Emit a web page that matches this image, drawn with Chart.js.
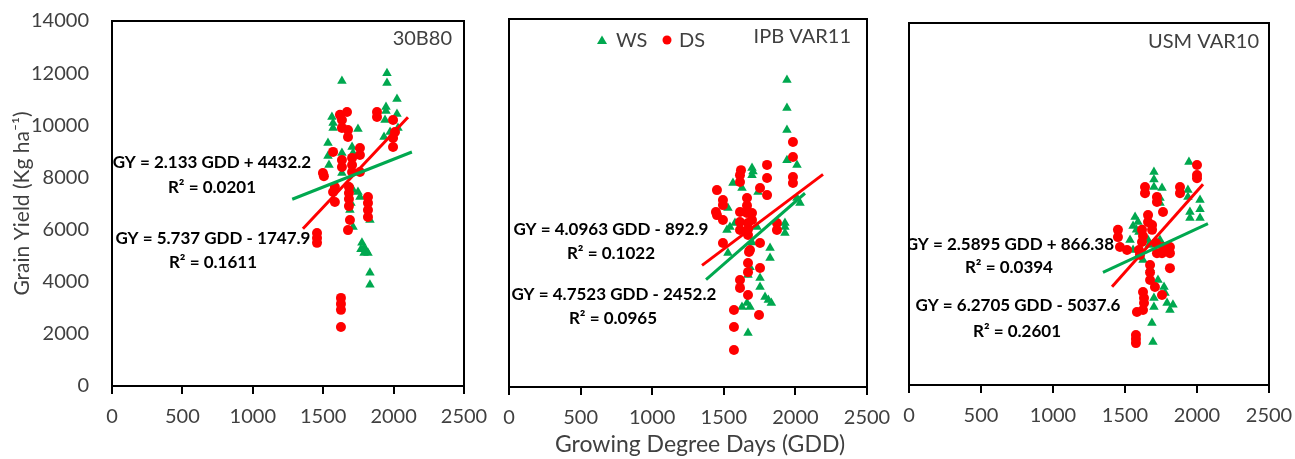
<!DOCTYPE html>
<html>
<head>
<meta charset="utf-8">
<script src="https://cdn.jsdelivr.net/npm/chart.js@4"></script>
<style>
html, body { margin: 0; padding: 0; background: #fff; }
#wrap { position: relative; width: 1295px; height: 459px; }
#wrap canvas { position: absolute; left: 0; top: 0; }
</style>
</head>
<body>
<div id="wrap">
  <canvas id="c1" width="1295" height="459"></canvas>
  <canvas id="c2" width="1295" height="459"></canvas>
  <canvas id="c3" width="1295" height="459"></canvas>
</div>
<script>
// --- data ---
const xTicks = [0, 500, 1000, 1500, 2000, 2500];
const yTicks = [0, 2000, 4000, 6000, 8000, 10000, 12000, 14000];
const seriesNames = ['WS', 'DS'];

// 30B80
const gdd30B80WS = [1633,1953,1953,2024,1946,1946,1562,1570,1570,1747,2024,1939,1932,2031,1975,1534,1705,1712,1534,1541,1633,1633,1690,1697,1747,1761,1690,1712,1832,1775,1790,1805,1818,1790,1768,1832,1832,1712];
const gy30B80WS  = [11700,12000,11620,11010,10700,10550,10320,10090,9900,9860,10430,10200,9550,9900,9740,9320,9170,8940,8820,8480,8940,8170,7630,7020,7440,7250,6750,6100,6370,5490,5300,5200,5100,5100,5250,4340,3880,7520];
const gdd30B80DS = [1619,1669,1882,1882,1633,1633,1676,1676,1996,2010,1996,1996,1761,1761,1633,1633,1705,1705,1705,1498,1505,1761,1583,1570,1683,1683,1683,1683,1583,1818,1818,1818,1818,1690,1676,1456,1456,1456,1626,1626,1626,1626,1570];
const gy30B80DS  = [10400,10510,10510,10320,10200,9900,9820,9550,10200,9740,9510,9170,9130,8860,8670,8400,8750,8480,8210,8170,8050,8210,7630,7440,7630,7400,7170,6900,7060,7250,7020,6750,6480,6370,5980,5870,5680,5490,3380,3150,2920,2260,8980];

// IPB VAR11
const gddIPBWS = [1941,1941,1941,1941,2011,1697,1697,1704,1564,1627,1739,1529,2032,2011,1927,1927,1927,1543,1522,1578,1732,1823,1823,1529,1683,1669,1753,1753,1788,1811,1832,1627,1683,1662,1669,1697];
const gyIPBWS  = [11680,10610,9780,8630,8450,8330,8060,8200,7760,7570,7420,6810,7000,7190,6240,6090,5860,6090,5970,6240,6090,5290,4910,5100,4560,4260,4150,3800,3420,3310,3200,3040,3040,3200,2050,5500];
const gddIPBDS = [1983,1983,1983,1983,1802,1802,1802,1753,1620,1613,1613,1452,1494,1494,1445,1452,1494,1662,1662,1662,1613,1613,1613,1697,1697,1669,1669,1669,1494,1871,1871,1753,1683,1676,1669,1669,1753,1613,1613,1669,1746,1571,1571,1571];
const gyIPBDS  = [9320,8750,7990,7760,8450,7950,7300,7570,8250,8060,7800,7490,7110,6920,6660,6540,6350,7190,6900,6620,6660,6280,5970,6620,6350,6240,6000,5780,5480,6240,5970,5480,5210,5140,4720,4370,4530,4070,3770,3500,2740,2930,2280,1410];

// USM VAR10
const gddUSMWS = [1944,1701,1701,1701,1757,1743,1743,1937,1937,2021,2021,2021,1951,1951,1570,1590,1556,1580,1597,1535,1556,1743,1660,1667,1625,1674,1729,1771,1778,1792,1833,1812,1701,1701,1687,1694];
const gyUSMWS  = [8620,8240,7950,7660,7620,7230,7040,7540,7270,7150,6800,6460,6690,6460,6500,6300,6150,6000,5920,5610,5220,5610,5610,5410,4830,4520,4060,3790,3560,3170,3100,2900,3360,3020,2400,1660];
const gddUSMDS = [2000,2000,2000,1882,1882,1639,1639,1722,1722,1764,1660,1660,1688,1688,1451,1451,1465,1514,1618,1625,1618,1597,1604,1715,1722,1764,1812,1812,1757,1812,1674,1674,1674,1708,1625,1632,1632,1625,1583,1757,1576,1576,1576];
const gyUSMDS  = [8510,8120,8000,7660,7420,7660,7420,7270,7080,6690,6570,6300,6190,6000,6000,5720,5340,5220,6000,5760,5530,5220,5030,5490,5100,5340,5340,5100,5100,4520,4640,4350,4060,3790,3600,3360,3170,2900,2820,3480,1930,1780,1620];

// trendline equations: [slope, intercept, R2], and GDD span of each drawn line
const fit30B80WS = [2.133, 4432.2, 0.0201],  span30B80WS = [1280, 2130];
const fit30B80DS = [5.737, -1747.9, 0.1611], span30B80DS = [1356, 2102];
const fitIPBWS   = [4.7523, -2452.2, 0.0965], spanIPBWS  = [1376, 2067];
const fitIPBDS   = [4.0963, -892.9, 0.1022],  spanIPBDS  = [1348, 2193];
const fitUSMWS   = [2.5895, 866.38, 0.0394],  spanUSMWS  = [1347, 2076];
const fitUSMDS   = [6.2705, -5037.6, 0.2601], spanUSMDS  = [1410, 2042];

const GREEN = '#00a84f';
const RED = '#ff0000';
const GREY = '#404040';
const FONT = 'Lato, "Open Sans", sans-serif';

function pts(xs, ys) { return xs.map((x, i) => ({ x: x, y: ys[i] })); }
function trend(fit, span) { return span.map(x => ({ x: x, y: fit[0] * x + fit[1] })); }
function eqText(fit) {
    const sign = fit[1] < 0 ? ' - ' : ' + ';
    return 'GY = ' + fit[0] + ' GDD' + sign + Math.abs(fit[1]);
}
function r2Text(fit) { return 'R\u00b2 = ' + fit[2].toFixed(4); }

// draws equations, panel name, legend, frame
const decor = {
    id: 'decor',
    afterDatasetsDraw(chart) {
        const o = chart.options.plugins.decor;
        const ctx = chart.ctx, a = chart.chartArea;
        const xs = chart.scales.x, ys = chart.scales.y;
        ctx.save();
        ctx.beginPath();
        ctx.rect(a.left, a.top, a.right - a.left, a.bottom - a.top);
        ctx.clip();
        ctx.fillStyle = '#000';
        ctx.font = 'bold 17px ' + FONT;
        ctx.textAlign = 'center';
        ctx.textBaseline = 'middle';
        o.notes.forEach(n => {
            ctx.fillText(n.text, xs.getPixelForValue(n.x), ys.getPixelForValue(n.y));
        });
        ctx.restore();

        ctx.save();
        ctx.fillStyle = GREY;
        ctx.font = '20px ' + FONT;
        ctx.textAlign = 'right';
        ctx.textBaseline = 'middle';
        ctx.fillText(o.name, a.right - o.nameDx, a.top + o.nameDy);

        if (o.legend) {
            const lx = a.left + 93, ly = a.top + 21;
            ctx.fillStyle = GREEN;
            ctx.beginPath();
            ctx.moveTo(lx, ly - 4.5);
            ctx.lineTo(lx + 5, ly + 4);
            ctx.lineTo(lx - 5, ly + 4);
            ctx.closePath();
            ctx.fill();
            ctx.fillStyle = RED;
            ctx.beginPath();
            ctx.arc(lx + 65, ly, 4.5, 0, Math.PI * 2);
            ctx.fill();
            ctx.fillStyle = GREY;
            ctx.textAlign = 'left';
            ctx.fillText(seriesNames[0], lx + 14, ly + 1);
            ctx.fillText(seriesNames[1], lx + 77, ly + 1);
        }
        if (o.xTitle) {
            ctx.font = '23px ' + FONT;
            ctx.textAlign = 'center';
            ctx.fillText(o.xTitle, 700, 445);
        }
        ctx.strokeStyle = '#000';
        ctx.lineWidth = 2;
        ctx.strokeRect(a.left, a.top, a.right - a.left, a.bottom - a.top);
        ctx.restore();
    }
};

function makePanel(id, p) {
    new Chart(document.getElementById(id).getContext('2d'), {
        type: 'scatter',
        data: {
            datasets: [
                { label: 'WS trend', type: 'line', data: trend(p.fitWS, p.spanWS), borderColor: GREEN, borderWidth: 3, pointRadius: 0, fill: false, order: 0 },
                { label: 'DS trend', type: 'line', data: trend(p.fitDS, p.spanDS), borderColor: RED, borderWidth: 3, pointRadius: 0, fill: false, order: 0 },
                { label: seriesNames[1], data: pts(p.dsX, p.dsY), pointStyle: 'circle', pointRadius: 5, backgroundColor: RED, borderWidth: 0, order: 1 },
                { label: seriesNames[0], data: pts(p.wsX, p.wsY), pointStyle: 'triangle', pointRadius: 5.5, backgroundColor: GREEN, borderWidth: 0, order: 2 }
            ]
        },
        options: {
            responsive: false,
            animation: false,
            events: [],
            layout: { padding: p.pad },
            plugins: {
                legend: { display: false },
                tooltip: { enabled: false },
                decor: p.decor
            },
            scales: {
                x: {
                    type: 'linear', min: 0, max: 2500,
                    afterBuildTicks: s => { s.ticks = xTicks.map(v => ({ value: v })); },
                    afterFit: s => { s.height = 50; s.paddingLeft = 0; s.paddingRight = 0; },
                    ticks: { font: { family: FONT, size: 20 }, color: GREY, padding: 11, maxRotation: 0, autoSkip: false, callback: v => String(v) },
                    grid: { drawOnChartArea: false, drawTicks: true, tickLength: 8, color: '#000', lineWidth: 2 },
                    border: { display: false }
                },
                y: {
                    type: 'linear', min: 0, max: 14000, display: p.showY,
                    afterBuildTicks: s => { s.ticks = yTicks.map(v => ({ value: v })); },
                    afterFit: s => { s.width = p.showY ? 112 : 0; s.paddingTop = 0; s.paddingBottom = 0; },
                    ticks: { font: { family: FONT, size: 20 }, color: GREY, padding: 23, callback: v => String(v) },
                    grid: { drawOnChartArea: false, drawTicks: false },
                    border: { display: false },
                    title: { display: true, text: 'Grain Yield (Kg ha\u207b\u00b9)', color: GREY, font: { family: FONT, size: 21 }, padding: { top: 10, bottom: 0 } }
                }
            }
        },
        plugins: [decor]
    });
}

makePanel('c1', {
    wsX: gdd30B80WS, wsY: gy30B80WS, dsX: gdd30B80DS, dsY: gy30B80DS,
    fitWS: fit30B80WS, spanWS: span30B80WS, fitDS: fit30B80DS, spanDS: span30B80DS,
    showY: true,
    pad: { left: 0, right: 831, top: 21, bottom: 23 },
    decor: {
        name: '30B80', nameDx: 12, nameDy: 18,
        notes: [
            { text: eqText(fit30B80WS), x: 710, y: 8553 },
            { text: r2Text(fit30B80WS), x: 710, y: 7594 },
            { text: eqText(fit30B80DS), x: 717, y: 5638 },
            { text: r2Text(fit30B80DS), x: 717, y: 4718 }
        ]
    }
});

makePanel('c2', {
    wsX: gddIPBWS, wsY: gyIPBWS, dsX: gddIPBDS, dsY: gyIPBDS,
    fitWS: fitIPBWS, spanWS: spanIPBWS, fitDS: fitIPBDS, spanDS: spanIPBDS,
    showY: false,
    pad: { left: 509, right: 428, top: 19, bottom: 22 },
    decor: {
        name: 'IPB VAR11', nameDx: 16, nameDy: 18, legend: true,
        xTitle: 'Growing Degree Days (GDD)',
        notes: [
            { text: eqText(fitIPBDS), x: 712, y: 5973 },
            { text: r2Text(fitIPBDS), x: 712, y: 5060 },
            { text: eqText(fitIPBWS), x: 733, y: 3500 },
            { text: r2Text(fitIPBWS), x: 726, y: 2587 }
        ]
    }
});

makePanel('c3', {
    wsX: gddUSMWS, wsY: gyUSMWS, dsX: gddUSMDS, dsY: gyUSMDS,
    fitWS: fitUSMWS, spanWS: spanUSMWS, fitDS: fitUSMDS, spanDS: spanUSMDS,
    showY: false,
    pad: { left: 909, right: 26, top: 23, bottom: 24 },
    decor: {
        name: 'USM VAR10', nameDx: 10, nameDy: 19,
        notes: [
            { text: eqText(fitUSMWS), x: 701, y: 5414 },
            { text: r2Text(fitUSMWS), x: 694, y: 4525 },
            { text: eqText(fitUSMDS), x: 757, y: 3055 },
            { text: r2Text(fitUSMDS), x: 750, y: 2050 }
        ]
    }
});
</script>
</body>
</html>
